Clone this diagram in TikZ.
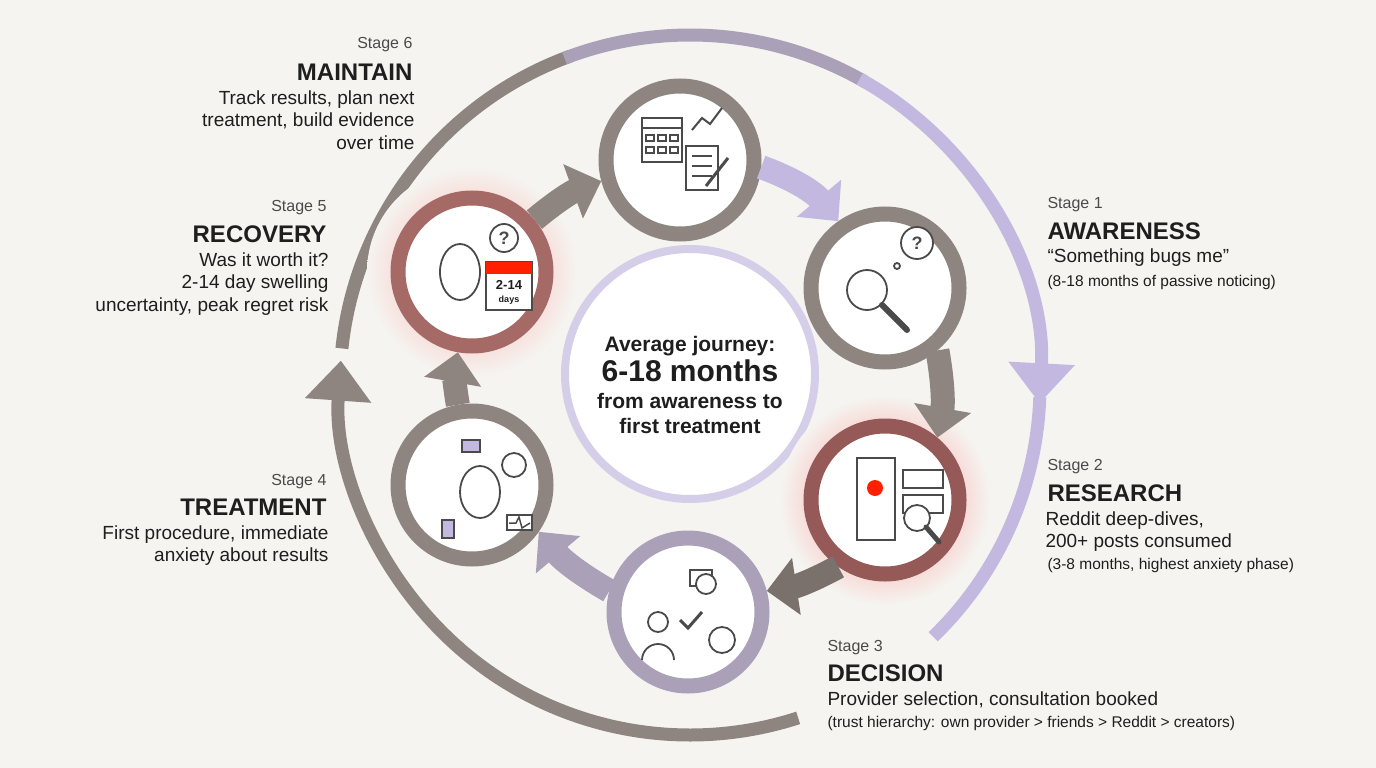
\documentclass[tikz,border=0pt]{standalone}
\usepackage{fontspec}
\setmainfont{Liberation Sans}
\usetikzlibrary{arrows.meta}
\definecolor{bg}{HTML}{F5F4F0}
\definecolor{gr}{HTML}{8E8580}
\definecolor{dg}{HTML}{7A716D}
\definecolor{pu}{HTML}{C3B9E0}
\definecolor{mid}{HTML}{AAA0B8}
\definecolor{tx}{HTML}{1E1E1E}
\definecolor{ic}{HTML}{4A4A4A}
\tikzset{
  stg/.style={circle,minimum size=148,line width=15,fill=white,inner sep=0},
  arr/.style={line width=24,-{Triangle[length=30,width=56]}},
  big/.style={line width=13},
  lbl/.style={font=\fontsize{16}{18}\selectfont,text=ic},
  ttl/.style={font=\fontsize{24}{26}\selectfont\bfseries,text=tx},
  body/.style={font=\fontsize{19}{22.5}\selectfont,text=tx},
  sm/.style={font=\fontsize{15.5}{17}\selectfont,text=tx},
  icn/.style={draw=ic,line width=1.8,fill=white},
}
\begin{document}
\begin{tikzpicture}[x=1pt,y=-1pt]
\fill[bg] (0,0) rectangle (1376,768);
\useasboundingbox (0,0) rectangle (1376,768);
\coordinate (c) at (690,385);
% outer arcs
\draw[big,gr,-{Triangle[length=40,width=64]}] (c) ++(72:350) arc[start angle=72,end angle=184,radius=350];
\draw[big,gr] (c) ++(186:350) arc[start angle=186,end angle=250,radius=350];
\draw[big,mid] (c) ++(249:350) arc[start angle=249,end angle=300,radius=350];
\draw[big,pu,-{Triangle[length=40,width=64]}] (c) ++(299:350) arc[start angle=299,end angle=363,radius=350];
\draw[big,pu] (c) ++(362:350) arc[start angle=362,end angle=406,radius=350];
% center
\node[circle,minimum size=250,line width=8,draw=pu!70,fill=white,inner sep=0] (ctr) at (690,374) {};
\node[align=center,text=tx,font=\fontsize{21}{25}\selectfont\bfseries] (ct) at (690,385)
 {Average journey:\\[2pt]{\fontsize{30}{32}\selectfont 6-18 months}\\[2pt]from awareness to\\first treatment};
% glows
\shade[inner color=red!45,outer color=bg] (885,500) circle (105);
\shade[inner color=red!35,outer color=bg] (472,272) circle (105);
% stage circles
\node[stg,draw=gr] (s6) at (680,160) {};
\node[stg,draw=gr] (s1) at (885,288) {};
\node[stg,draw=dg!80!red] (s2) at (885,500) {};
\node[stg,draw=mid] (s3) at (688,612) {};
\node[stg,draw=gr] (s4) at (472,485) {};
\node[stg,draw=gr!80!red] (s5) at (472,272) {};
% arrows
\draw[arr,pu] (s6.-5) to[bend left=15] (s1.125);
\draw[arr,gr] (s1.-50) to[bend left=10] (s2.50);
\draw[arr,dg] (s2.-125) to[bend left=10] (s3.15);
\draw[arr,mid] (s3.165) to[bend left=10] (s4.-35);
\draw[arr,gr] (s4.100) to[bend left=10] (s5.-100);
\draw[arr,gr] (s5.40) to[bend left=10] (s6.195);
% icons s6
\draw[icn] (642,118) rectangle (682,162);
\draw[ic,line width=1.8] (642,128) -- (682,128);
\foreach \x in {650,662,674}{\foreach \y in {138,150}{\draw[ic,line width=1.5] (\x-4,\y-3) rectangle (\x+4,\y+3);}}
\draw[ic,line width=2] (692,130) -- (702,118) -- (710,124) -- (722,108);
\draw[icn] (686,146) rectangle (718,190);
\foreach \y in {156,166,176}{\draw[ic,line width=1.5] (692,\y) -- (712,\y);}
\draw[ic,line width=3] (706,186) -- (728,158);
% s1
\draw[icn] (867,290) circle (20);
\draw[ic,line width=6,line cap=round] (882,305) -- (907,330);
\draw[icn] (917,243) circle (16);
\node[text=ic,font=\bfseries\fontsize{18}{18}\selectfont] (q1) at (917,243) {?};
\draw[icn] (897,266) circle (3);
% s2
\draw[icn] (857,458) rectangle (895,540);
\draw[fill=red!75!orange,draw=none] (875,488) circle (8);
\draw[icn] (903,470) rectangle (943,488);
\draw[icn] (903,495) rectangle (943,513);
\draw[icn] (917,518) circle (13);
\draw[ic,line width=5,line cap=round] (926,527) -- (939,542);
% s3
\draw[icn] (658,622) circle (10);
\draw[icn] (642,660) arc[start angle=180,end angle=360,radius=16];
\draw[icn] (690,570) rectangle (712,586);
\draw[icn] (706,584) circle (10);
\draw[ic,line width=3] (680,620) -- (688,628) -- (702,612);
\draw[icn] (722,640) circle (13);
% s4
\draw[icn] (480,492) ellipse (20 and 26);
\draw[icn] (514,465) circle (12);
\draw[icn] (507,515) rectangle (532,530);
\draw[ic,line width=1.5] (509,523) -- (516,523) -- (519,517) -- (522,528) -- (530,523);
\draw[draw=ic,fill=pu,line width=1.5] (442,520) rectangle (454,538);
\draw[draw=ic,fill=pu,line width=1.5] (462,440) rectangle (480,452);
% s5
\draw[icn] (460,272) ellipse (20 and 28);
\draw[icn] (504,238) circle (14);
\node[text=ic,font=\bfseries\fontsize{18}{18}\selectfont] (q5) at (504,238) {?};
\draw[draw=ic,fill=white,line width=1.8] (486,262) rectangle (532,310);
\fill[red!75!orange] (486,262) rectangle (532,274);
\node[align=center,text=tx,font=\bfseries\fontsize{13}{13}\selectfont] (cal) at (509,292) {2-14\\{\fontsize{9}{9}\selectfont days}};
% texts
\node[lbl,anchor=east] (l6) at (416,45) {Stage 6};
\node[ttl,anchor=east] (t6) at (416,72) {MAINTAIN};
\node[body,anchor=north east,align=right] (b6) at (418,87) {Track results, plan next\\treatment, build evidence\\over time};
\node[lbl,anchor=east] (l5) at (330,208) {Stage 5};
\node[ttl,anchor=east] (t5) at (330,234) {RECOVERY};
\node[body,anchor=north east,align=right] (b5) at (332,249) {Was it worth it?\\2-14 day swelling\\uncertainty, peak regret risk};
\node[lbl,anchor=east] (l4) at (330,482) {Stage 4};
\node[ttl,anchor=east] (t4) at (330,507) {TREATMENT};
\node[body,anchor=north east,align=right] (b4) at (332,522) {First procedure, immediate\\anxiety about results};
\node[lbl,anchor=west] (l1) at (1044,205) {Stage 1};
\node[ttl,anchor=west] (t1) at (1044,231) {AWARENESS};
\node[body,anchor=west] (b1) at (1044,258) {“Something bugs me”};
\node[sm,anchor=west] (m1) at (1044,282) {(8-18 months of passive noticing)};
\node[lbl,anchor=west] (l2) at (1044,467) {Stage 2};
\node[ttl,anchor=west] (t2) at (1044,493) {RESEARCH};
\node[body,anchor=north west,align=left] (b2) at (1042,508) {Reddit deep-dives,\\200+ posts consumed};
\node[sm,anchor=west] (m2) at (1044,565) {(3-8 months, highest anxiety phase)};
\node[lbl,anchor=west] (l3) at (824,648) {Stage 3};
\node[ttl,anchor=west] (t3) at (824,673) {DECISION};
\node[body,anchor=west] (b3) at (824,700) {Provider selection, consultation booked};
\node[sm,anchor=west] (m3) at (824,723) {(trust hierarchy: own provider > friends > Reddit > creators)};
\end{tikzpicture}
\end{document}
